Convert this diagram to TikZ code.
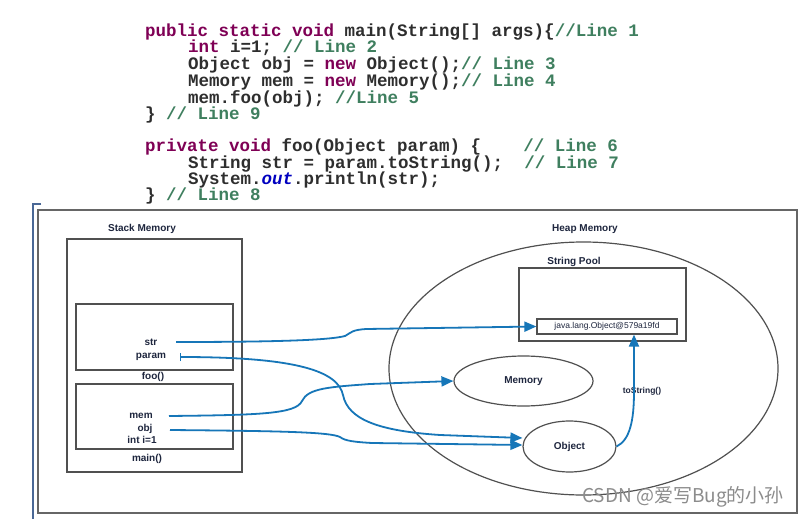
\documentclass[tikz,border=0pt]{standalone}
\usepackage{fontspec}
\setmainfont{Liberation Sans}
\setmonofont{Liberation Mono}
\newfontfamily\cjkfont{Noto Sans CJK SC}
\usetikzlibrary{arrows.meta,shapes.geometric}

\definecolor{kwcol}{RGB}{127,0,85}
\definecolor{cmtcol}{RGB}{63,127,95}
\definecolor{fldcol}{RGB}{0,0,192}
\definecolor{ptrblue}{RGB}{22,118,184}
\definecolor{lblnavy}{RGB}{30,38,62}
\definecolor{boxgrey}{RGB}{80,80,80}
\definecolor{edgeblue}{RGB}{74,104,150}

\newcommand{\kw}[1]{\textcolor{kwcol}{#1}}
\newcommand{\cmt}[1]{\textcolor{cmtcol}{#1}}

\begin{document}
\begin{tikzpicture}[x=1pt,y=-1pt,
  codeline/.style={anchor=base west, inner sep=0pt, text=black!82,
    font=\ttfamily\bfseries\fontsize{17.5}{17.5}\selectfont},
  lbl/.style={inner sep=0pt, text=lblnavy, font=\bfseries\fontsize{10}{11}\selectfont},
  frame/.style={draw=boxgrey, line width=1.2pt},
  heapobj/.style={draw=boxgrey, line width=1.2pt, ellipse, inner sep=0pt},
  ptr/.style={draw=ptrblue, line width=1.8pt, -{Triangle[length=12pt,width=10pt]}}]

\useasboundingbox[fill=white] (0,0) rectangle (801,519);

% the code
\node[codeline] (ln1) at (145,37) {\kw{public static void} main(String[] args)\{\cmt{//Line 1}};
\node[codeline] (ln2) at (188,53) {\kw{int} i=1; \cmt{// Line 2}};
\node[codeline] (ln3) at (188,70) {Object obj = \kw{new} Object();\cmt{// Line 3}};
\node[codeline] (ln4) at (188,86) {Memory mem = \kw{new} Memory();\cmt{// Line 4}};
\node[codeline] (ln5) at (188,103) {mem.foo(obj); \cmt{//Line 5}};
\node[codeline] (ln9) at (145,119) {\} \cmt{// Line 9}};

\node[codeline] (ln6) at (145,151) {\kw{private void} foo(Object param) \{~~~~\cmt{// Line 6}};
\node[codeline] (ln7) at (188,168) {String str = param.toString();~~\cmt{// Line 7}};
\node[codeline] (lnout) at (188,184) {System.\textcolor{fldcol}{\textit{out}}.println(str);};
\node[codeline] (ln8) at (145,200) {\} \cmt{// Line 8}};

% outer frame
\draw[draw=edgeblue, line width=1.5pt] (41,204) -- (33,204) -- (33,519);
\draw[draw=black!60, line width=1.3pt] (38,210) rectangle (797,513);

% stack side
\node[lbl] (stacklbl) at (142,229) {Stack Memory};
\draw[frame] (67,239) rectangle (242,472);
\draw[frame] (76,304) rectangle (233,370);
\draw[frame] (76,384) rectangle (233,449);
\node[lbl] (foolbl) at (153,377) {foo()};
\node[lbl] (mainlbl) at (147,459) {main()};

\node[lbl] (str) at (151,342) {str};
\node[lbl] (param) at (151,357) {param};
\node[lbl] (mem) at (141,416) {mem};
\node[lbl] (obj) at (145,429) {obj};
\node[lbl] (inti) at (142,440) {int i=1};

% heap side
\node[lbl] (heaplbl) at (585,229) {Heap Memory};
\node[heapobj, minimum width=389pt, minimum height=253pt] (heap) at (583.5,368.5) {};
\node[lbl] (poollbl) at (574,262) {String Pool};
\draw[frame] (519,268) rectangle (686,341);
\node[draw=boxgrey, line width=1.2pt, minimum width=140pt, minimum height=15pt, inner sep=0pt,
  text=lblnavy, font=\fontsize{8.5}{9}\selectfont] (strobj) at (607,326.5) {java.lang.Object@579a19fd};
\node[heapobj, lbl, minimum width=139pt, minimum height=50pt] (memobj) at (523.5,381) {Memory};
\node[heapobj, lbl, minimum width=93pt, minimum height=51pt] (objobj) at (569.5,446.5) {Object};
\node[lbl, font=\bfseries\fontsize{8.5}{9}\selectfont] (tostr) at (642,391) {toString()};

% pointers
\coordinate (strp) at (176,342);
\coordinate (paramp) at (180,357);
\coordinate (memp) at (169,416);
\coordinate (objp) at (170,430);

\draw[ptr] (strp) .. controls (280,342) and (330,340) .. (345,336)
  .. controls (352,332) and (352,330) .. (366,329) -- (strobj.west);
\draw[ptr, {Bar[width=8pt,line width=1pt]}-{Triangle[length=12pt,width=10pt]}] (paramp)
  .. controls (300,357) and (338,372) .. (343,395)
  .. controls (348,420) and (380,431) .. (440,435) -- ([yshift=8.5pt]objobj.west);
\draw[ptr] (memp) .. controls (260,415) and (296,414) .. (302,401)
  .. controls (308,388) and (330,387) .. (370,384) -- (memobj.west);
\draw[ptr] (objp) .. controls (280,431) and (330,432) .. (340,437)
  .. controls (345,441) and (355,442) .. (372,443) -- ([yshift=1.5pt]objobj.west);
\draw[ptr] (objobj.east) .. controls (630,440) and (634,420) .. (634,392)
  -- (strobj.south -| 634,0);

% watermark
\node[anchor=west, inner sep=0pt, text=black!45, font=\cjkfont\fontsize{19}{19}\selectfont] (wmark)
  at (582,497) {CSDN @爱写Bug的小孙};
\end{tikzpicture}
\end{document}
